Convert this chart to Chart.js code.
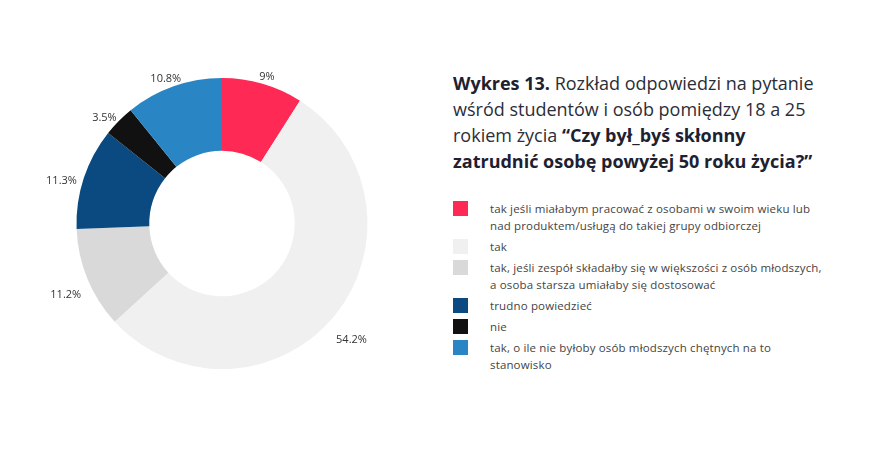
<!DOCTYPE html>
<html>
<head>
<meta charset="utf-8">
<script src="https://cdn.jsdelivr.net/npm/chart.js@4.4.1/dist/chart.umd.min.js"></script>
<style>
  body { margin: 0; background: #fff; width: 870px; height: 461px; position: relative; overflow: hidden; font-family: 'Open Sans', sans-serif; }
  #chart-box { position: absolute; left: 0; top: 0; width: 444px; height: 447px; }
  #title { position: absolute; left: 453px; top: 70px; font-size: 18px; line-height: 26px; color: #2b2e38; white-space: nowrap; }
  #title b { color: #1d2130; }
  #legend { position: absolute; left: 453px; top: 200px; font-size: 11.5px; line-height: 17px; color: #444; letter-spacing: 0.15px; }
  .row { display: flex; margin-bottom: 4px; }
  .box { width: 15px; height: 15px; margin-top: 1px; margin-right: 22px; flex: none; }
</style>
</head>
<body>
<div id="chart-box"><canvas id="pie"></canvas></div>
<div id="title"><b>Wykres 13.</b> Rozkład odpowiedzi na pytanie<br>wśród studentów i osób pomiędzy 18 a 25<br>rokiem życia <b>“Czy był_byś skłonny<br>zatrudnić osobę powyżej 50 roku życia?”</b></div>
<div id="legend"></div>
<script>
const categories = [
    ['tak jeśli miałabym pracować z osobami w swoim wieku lub', 'nad produktem/usługą do takiej grupy odbiorczej'],
    'tak',
    ['tak, jeśli zespół składałby się w większości z osób młodszych,', 'a osoba starsza umiałaby się dostosować'],
    'trudno powiedzieć',
    'nie',
    ['tak, o ile nie byłoby osób młodszych chętnych na to', 'stanowisko']
];
const values = [9, 54.2, 11.2, 11.3, 3.5, 10.8];
const colors = ['#fe2a55', '#f0f0f0', '#d9d9d9', '#0a4a80', '#111111', '#2985c3'];

// percentage labels outside the ring
const outsideLabels = {
    id: 'outsideLabels',
    afterDatasetsDraw(chart) {
        const ctx = chart.ctx;
        const meta = chart.getDatasetMeta(0);
        ctx.save();
        ctx.font = '11px "Open Sans"';
        ctx.fillStyle = '#333';
        ctx.textAlign = 'center';
        ctx.textBaseline = 'middle';
        meta.data.forEach((arc, i) => {
            const mid = (arc.startAngle + arc.endAngle) / 2;
            const dx = Math.cos(mid), dy = Math.sin(mid);
            const r = arc.outerRadius + 8;
            const text = values[i] + '%';
            const w = ctx.measureText(text).width;
            const x = arc.x + dx * r + dx * w / 2;
            const y = arc.y + dy * (r + 7) + 7 + Math.max(0, dy) * 9;
            ctx.fillText(text, x, y);
        });
        ctx.restore();
    }
};

new Chart(document.getElementById('pie'), {
    type: 'doughnut',
    data: {
        labels: categories,
        datasets: [{
            data: values,
            backgroundColor: colors,
            borderWidth: 0
        }]
    },
    options: {
        responsive: true,
        maintainAspectRatio: false,
        animation: false,
        cutout: '50%',
        layout: { padding: { left: 76.5, right: 76.5, top: 78, bottom: 78 } },
        plugins: {
            legend: { display: false },
            tooltip: { enabled: false }
        }
    },
    plugins: [outsideLabels]
});

const legend = document.getElementById('legend');
categories.forEach((label, i) => {
    const row = document.createElement('div');
    row.className = 'row';
    const lines = Array.isArray(label) ? label.join('<br>') : label;
    row.innerHTML = `<div class="box" style="background:${colors[i]}"></div><div>${lines}</div>`;
    legend.appendChild(row);
});
</script>
</body>
</html>
